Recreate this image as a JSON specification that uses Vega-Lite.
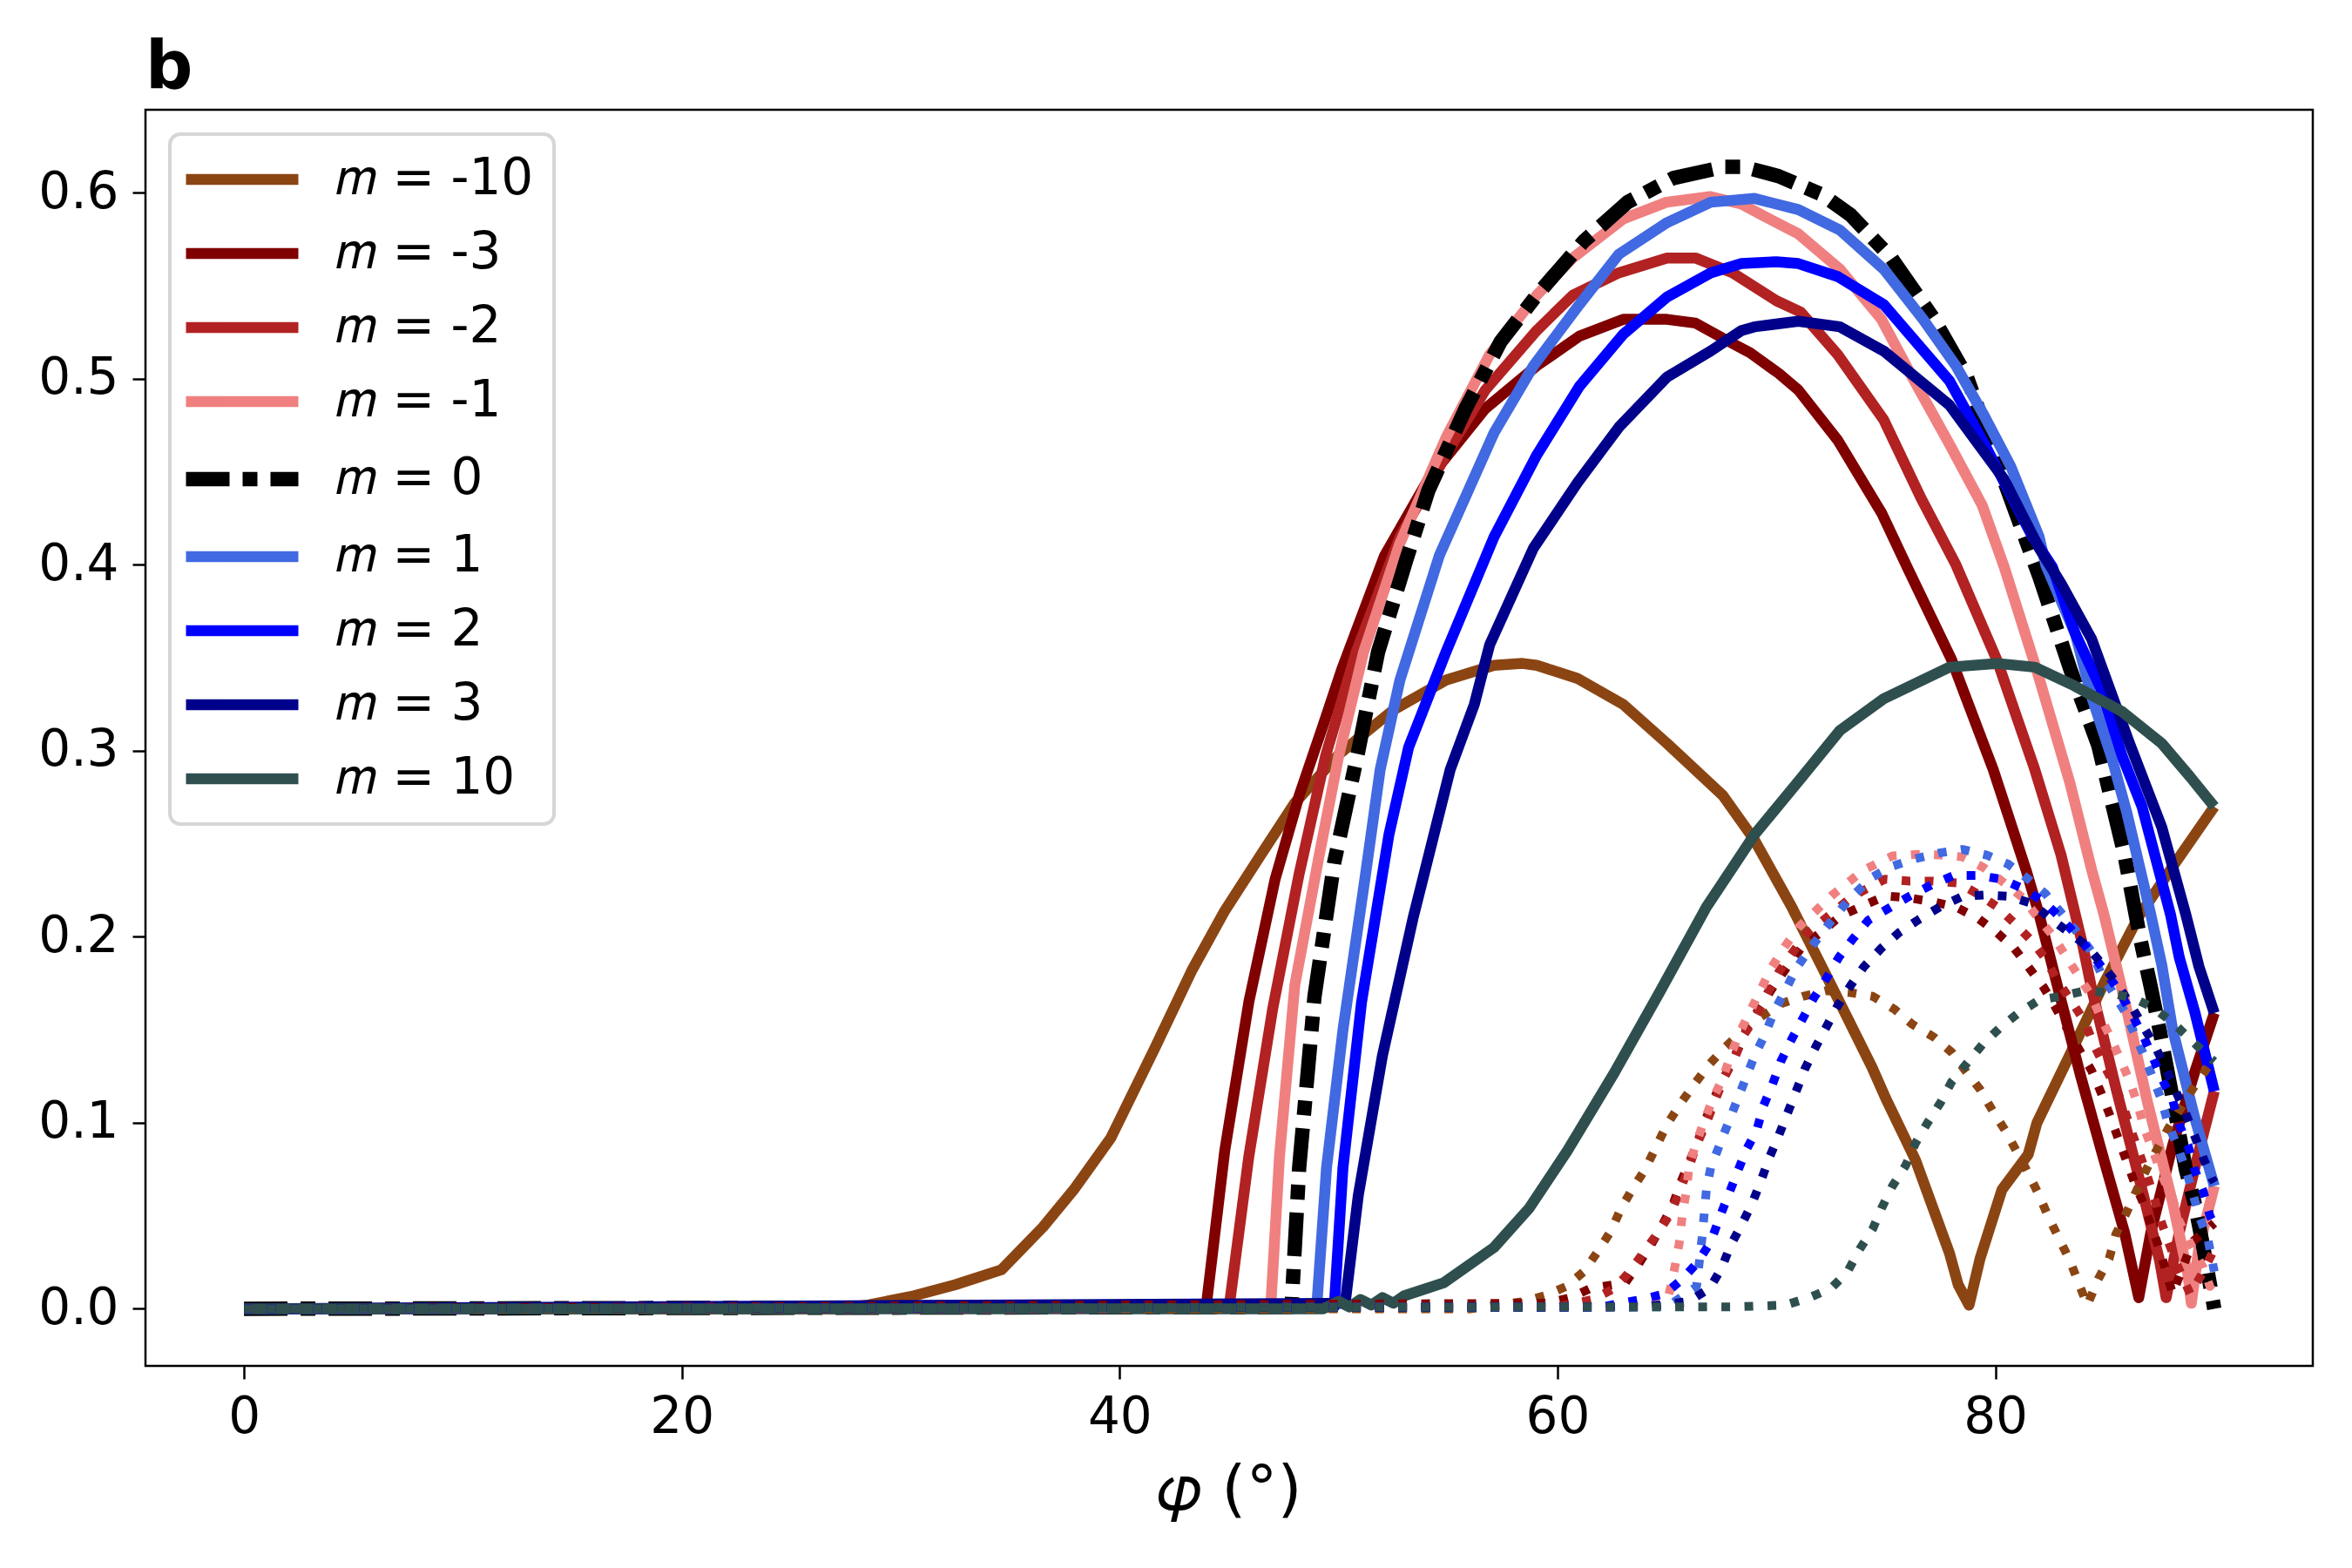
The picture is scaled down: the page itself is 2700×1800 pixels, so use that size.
{
  "$schema": "https://vega.github.io/schema/vega-lite/v6.json",
  "width": 2488,
  "height": 1442,
  "autosize": "none",
  "padding": {"left": 167, "top": 126, "right": 45, "bottom": 232},
  "background": "white",
  "title": {"text": "b", "anchor": "start", "frame": "group", "font": "DejaVu Sans", "fontSize": 76, "fontWeight": "bold", "color": "black", "baseline": "alphabetic", "offset": 24, "dy": 75},
  "datasets": {
    "solid": [
      {"m":"-10","p":0,"r":0},{"m":"-10","p":27,"r":0},{"m":"-10","p":28.5,"r":0.002},{"m":"-10","p":30.6,"r":0.007},{"m":"-10","p":32.5,"r":0.013},{"m":"-10","p":34.6,"r":0.021},{"m":"-10","p":36.5,"r":0.044},{"m":"-10","p":37.9,"r":0.064},{"m":"-10","p":39.6,"r":0.092},{"m":"-10","p":41.6,"r":0.14},{"m":"-10","p":43.3,"r":0.182},{"m":"-10","p":44.8,"r":0.214},{"m":"-10","p":46.5,"r":0.245},{"m":"-10","p":48,"r":0.272},{"m":"-10","p":50,"r":0.298},{"m":"-10","p":52.5,"r":0.322},{"m":"-10","p":54.9,"r":0.338},{"m":"-10","p":57.1,"r":0.346},{"m":"-10","p":58.4,"r":0.347},{"m":"-10","p":59.05,"r":0.346},{"m":"-10","p":60.9,"r":0.339},{"m":"-10","p":63,"r":0.325},{"m":"-10","p":65,"r":0.304},{"m":"-10","p":67.55,"r":0.276},{"m":"-10","p":69,"r":0.252},{"m":"-10","p":70.7,"r":0.216},{"m":"-10","p":72.5,"r":0.174},{"m":"-10","p":74.36,"r":0.13},{"m":"-10","p":75,"r":0.113},{"m":"-10","p":76.35,"r":0.08},{"m":"-10","p":77.9,"r":0.03},{"m":"-10","p":78.3,"r":0.013},{"m":"-10","p":78.8,"r":0.002},{"m":"-10","p":79.3,"r":0.027},{"m":"-10","p":80.3,"r":0.064},{"m":"-10","p":81.5,"r":0.083},{"m":"-10","p":81.9,"r":0.1},{"m":"-10","p":83.5,"r":0.139},{"m":"-10","p":84.96,"r":0.175},{"m":"-10","p":86.55,"r":0.211},{"m":"-10","p":88,"r":0.236},{"m":"-10","p":90,"r":0.27},
      {"m":"-3","p":0,"r":0},{"m":"-3","p":43.95,"r":0.001},{"m":"-3","p":44.8,"r":0.085},{"m":"-3","p":45.9,"r":0.165},{"m":"-3","p":47.1,"r":0.231},{"m":"-3","p":48.2,"r":0.276},{"m":"-3","p":49.3,"r":0.314},{"m":"-3","p":50.15,"r":0.344},{"m":"-3","p":52.1,"r":0.405},{"m":"-3","p":54.1,"r":0.446},{"m":"-3","p":56.7,"r":0.484},{"m":"-3","p":59.05,"r":0.507},{"m":"-3","p":61,"r":0.523},{"m":"-3","p":63,"r":0.532},{"m":"-3","p":65,"r":0.532},{"m":"-3","p":66.3,"r":0.53},{"m":"-3","p":68,"r":0.519},{"m":"-3","p":68.8,"r":0.514},{"m":"-3","p":70.1,"r":0.503},{"m":"-3","p":71,"r":0.494},{"m":"-3","p":72.8,"r":0.467},{"m":"-3","p":74.8,"r":0.428},{"m":"-3","p":76,"r":0.398},{"m":"-3","p":78,"r":0.349},{"m":"-3","p":79.9,"r":0.29},{"m":"-3","p":81.4,"r":0.236},{"m":"-3","p":82,"r":0.212},{"m":"-3","p":83,"r":0.166},{"m":"-3","p":83.9,"r":0.125},{"m":"-3","p":84.96,"r":0.08},{"m":"-3","p":85.9,"r":0.041},{"m":"-3","p":86.55,"r":0.006},{"m":"-3","p":87.1,"r":0.041},{"m":"-3","p":88.1,"r":0.088},{"m":"-3","p":89.1,"r":0.127},{"m":"-3","p":90,"r":0.159},
      {"m":"-2","p":0,"r":0},{"m":"-2","p":45,"r":0.001},{"m":"-2","p":45.9,"r":0.082},{"m":"-2","p":47,"r":0.162},{"m":"-2","p":48.2,"r":0.234},{"m":"-2","p":49.4,"r":0.297},{"m":"-2","p":50.8,"r":0.353},{"m":"-2","p":52.8,"r":0.415},{"m":"-2","p":55.1,"r":0.463},{"m":"-2","p":56.7,"r":0.494},{"m":"-2","p":59.05,"r":0.526},{"m":"-2","p":60.7,"r":0.545},{"m":"-2","p":62.8,"r":0.557},{"m":"-2","p":65,"r":0.565},{"m":"-2","p":66.3,"r":0.565},{"m":"-2","p":68,"r":0.557},{"m":"-2","p":70,"r":0.542},{"m":"-2","p":71.1,"r":0.536},{"m":"-2","p":72.8,"r":0.513},{"m":"-2","p":74.9,"r":0.478},{"m":"-2","p":76.6,"r":0.436},{"m":"-2","p":78.2,"r":0.4},{"m":"-2","p":80.1,"r":0.348},{"m":"-2","p":81.8,"r":0.29},{"m":"-2","p":83,"r":0.244},{"m":"-2","p":84,"r":0.195},{"m":"-2","p":84.4,"r":0.172},{"m":"-2","p":85.5,"r":0.119},{"m":"-2","p":86.7,"r":0.064},{"m":"-2","p":87.5,"r":0.026},{"m":"-2","p":87.8,"r":0.006},{"m":"-2","p":88.4,"r":0.041},{"m":"-2","p":89.2,"r":0.08},{"m":"-2","p":90,"r":0.117},
      {"m":"-1","p":0,"r":0},{"m":"-1","p":46.9,"r":0.001},{"m":"-1","p":47.3,"r":0.082},{"m":"-1","p":48,"r":0.174},{"m":"-1","p":49.1,"r":0.243},{"m":"-1","p":50,"r":0.297},{"m":"-1","p":51.14,"r":0.353},{"m":"-1","p":52.78,"r":0.411},{"m":"-1","p":54.93,"r":0.469},{"m":"-1","p":56.9,"r":0.513},{"m":"-1","p":59.05,"r":0.545},{"m":"-1","p":60.7,"r":0.565},{"m":"-1","p":63,"r":0.586},{"m":"-1","p":64.98,"r":0.595},{"m":"-1","p":66.96,"r":0.598},{"m":"-1","p":68.4,"r":0.594},{"m":"-1","p":70,"r":0.584},{"m":"-1","p":71,"r":0.578},{"m":"-1","p":72.9,"r":0.559},{"m":"-1","p":74.8,"r":0.532},{"m":"-1","p":76.2,"r":0.501},{"m":"-1","p":77.9,"r":0.465},{"m":"-1","p":79.4,"r":0.432},{"m":"-1","p":80.4,"r":0.399},{"m":"-1","p":81.9,"r":0.343},{"m":"-1","p":83.4,"r":0.283},{"m":"-1","p":84.4,"r":0.236},{"m":"-1","p":84.96,"r":0.212},{"m":"-1","p":85.9,"r":0.166},{"m":"-1","p":86.95,"r":0.111},{"m":"-1","p":88.1,"r":0.057},{"m":"-1","p":88.8,"r":0.018},{"m":"-1","p":88.95,"r":0.003},{"m":"-1","p":89.3,"r":0.033},{"m":"-1","p":90,"r":0.066},
      {"m":"0","p":0,"r":0},{"m":"0","p":47.85,"r":0.001},{"m":"0","p":48.2,"r":0.076},{"m":"0","p":48.9,"r":0.168},{"m":"0","p":49.8,"r":0.24},{"m":"0","p":50.9,"r":0.3},{"m":"0","p":51.8,"r":0.353},{"m":"0","p":53.1,"r":0.403},{"m":"0","p":54.1,"r":0.44},{"m":"0","p":55.8,"r":0.484},{"m":"0","p":57.4,"r":0.52},{"m":"0","p":59.05,"r":0.545},{"m":"0","p":61.2,"r":0.574},{"m":"0","p":63.2,"r":0.595},{"m":"0","p":65.3,"r":0.608},{"m":"0","p":67.6,"r":0.614},{"m":"0","p":68.5,"r":0.614},{"m":"0","p":70.1,"r":0.609},{"m":"0","p":72.1,"r":0.599},{"m":"0","p":73.4,"r":0.588},{"m":"0","p":75.25,"r":0.565},{"m":"0","p":77.2,"r":0.532},{"m":"0","p":78.7,"r":0.501},{"m":"0","p":80.5,"r":0.442},{"m":"0","p":82,"r":0.394},{"m":"0","p":83.45,"r":0.343},{"m":"0","p":84.7,"r":0.303},{"m":"0","p":85.9,"r":0.244},{"m":"0","p":86.6,"r":0.2},{"m":"0","p":87.1,"r":0.173},{"m":"0","p":87.5,"r":0.15},{"m":"0","p":88.1,"r":0.113},{"m":"0","p":88.7,"r":0.075},{"m":"0","p":89.1,"r":0.057},{"m":"0","p":89.5,"r":0.033},{"m":"0","p":90,"r":0},
      {"m":"1","p":0,"r":0},{"m":"1","p":49,"r":0.001},{"m":"1","p":49.45,"r":0.076},{"m":"1","p":50.2,"r":0.15},{"m":"1","p":51.2,"r":0.231},{"m":"1","p":51.9,"r":0.29},{"m":"1","p":52.8,"r":0.338},{"m":"1","p":54.6,"r":0.405},{"m":"1","p":57.1,"r":0.471},{"m":"1","p":58.9,"r":0.507},{"m":"1","p":61,"r":0.54},{"m":"1","p":62.8,"r":0.567},{"m":"1","p":65,"r":0.584},{"m":"1","p":67,"r":0.595},{"m":"1","p":69,"r":0.597},{"m":"1","p":71,"r":0.591},{"m":"1","p":72.9,"r":0.58},{"m":"1","p":74.9,"r":0.559},{"m":"1","p":76.7,"r":0.532},{"m":"1","p":78.2,"r":0.507},{"m":"1","p":79.5,"r":0.48},{"m":"1","p":80.7,"r":0.453},{"m":"1","p":82,"r":0.415},{"m":"1","p":82.3,"r":0.4},{"m":"1","p":83.65,"r":0.363},{"m":"1","p":84.4,"r":0.329},{"m":"1","p":85.3,"r":0.297},{"m":"1","p":86,"r":0.267},{"m":"1","p":87.1,"r":0.212},{"m":"1","p":87.6,"r":0.185},{"m":"1","p":88.1,"r":0.15},{"m":"1","p":89.1,"r":0.103},{"m":"1","p":90,"r":0.066},
      {"m":"2","p":0,"r":0},{"m":"2","p":49.8,"r":0.001},{"m":"2","p":50.2,"r":0.076},{"m":"2","p":51.05,"r":0.165},{"m":"2","p":52.3,"r":0.255},{"m":"2","p":53.2,"r":0.302},{"m":"2","p":54.9,"r":0.353},{"m":"2","p":57.1,"r":0.415},{"m":"2","p":59.05,"r":0.459},{"m":"2","p":61,"r":0.496},{"m":"2","p":63,"r":0.524},{"m":"2","p":65,"r":0.544},{"m":"2","p":67,"r":0.557},{"m":"2","p":68.4,"r":0.562},{"m":"2","p":70,"r":0.563},{"m":"2","p":71,"r":0.562},{"m":"2","p":72.8,"r":0.555},{"m":"2","p":74.9,"r":0.54},{"m":"2","p":77.9,"r":0.499},{"m":"2","p":79.5,"r":0.465},{"m":"2","p":81.7,"r":0.415},{"m":"2","p":82.6,"r":0.399},{"m":"2","p":83.65,"r":0.363},{"m":"2","p":84.8,"r":0.334},{"m":"2","p":85.8,"r":0.297},{"m":"2","p":86.7,"r":0.27},{"m":"2","p":88,"r":0.212},{"m":"2","p":88.4,"r":0.189},{"m":"2","p":89.1,"r":0.16},{"m":"2","p":90,"r":0.117},
      {"m":"3","p":0,"r":0},{"m":"3","p":50.3,"r":0.003},{"m":"3","p":50.9,"r":0.061},{"m":"3","p":52,"r":0.136},{"m":"3","p":53.4,"r":0.21},{"m":"3","p":55.1,"r":0.29},{"m":"3","p":56.2,"r":0.325},{"m":"3","p":56.9,"r":0.357},{"m":"3","p":58.9,"r":0.409},{"m":"3","p":60.9,"r":0.444},{"m":"3","p":62.8,"r":0.474},{"m":"3","p":65,"r":0.501},{"m":"3","p":67,"r":0.515},{"m":"3","p":68.4,"r":0.526},{"m":"3","p":69,"r":0.528},{"m":"3","p":71,"r":0.531},{"m":"3","p":72.9,"r":0.528},{"m":"3","p":74.9,"r":0.515},{"m":"3","p":77.9,"r":0.486},{"m":"3","p":80.4,"r":0.446},{"m":"3","p":82,"r":0.409},{"m":"3","p":83,"r":0.39},{"m":"3","p":84.4,"r":0.36},{"m":"3","p":86.1,"r":0.305},{"m":"3","p":87.6,"r":0.259},{"m":"3","p":88.7,"r":0.212},{"m":"3","p":89.3,"r":0.184},{"m":"3","p":90,"r":0.159},
      {"m":"10","p":0,"r":0},{"m":"10","p":49.3,"r":0},{"m":"10","p":50,"r":0.004},{"m":"10","p":50.5,"r":0.001},{"m":"10","p":51,"r":0.005},{"m":"10","p":51.5,"r":0.002},{"m":"10","p":52,"r":0.006},{"m":"10","p":52.5,"r":0.003},{"m":"10","p":53,"r":0.007},{"m":"10","p":54.8,"r":0.014},{"m":"10","p":57.1,"r":0.033},{"m":"10","p":58.7,"r":0.054},{"m":"10","p":60.45,"r":0.085},{"m":"10","p":62.6,"r":0.127},{"m":"10","p":64.7,"r":0.171},{"m":"10","p":66.8,"r":0.216},{"m":"10","p":69,"r":0.255},{"m":"10","p":71.1,"r":0.285},{"m":"10","p":72.9,"r":0.311},{"m":"10","p":74.9,"r":0.328},{"m":"10","p":77.9,"r":0.345},{"m":"10","p":80.1,"r":0.347},{"m":"10","p":81.8,"r":0.345},{"m":"10","p":83.6,"r":0.335},{"m":"10","p":85.8,"r":0.321},{"m":"10","p":87.6,"r":0.304},{"m":"10","p":88.9,"r":0.286},{"m":"10","p":90,"r":0.27}
    ],
    "dotted": [
      {"m":"-10","p":0,"r":0},{"m":"-10","p":56,"r":0},{"m":"-10","p":58.5,"r":0.004},{"m":"-10","p":59.4,"r":0.007},{"m":"-10","p":60.4,"r":0.012},{"m":"-10","p":61.2,"r":0.02},{"m":"-10","p":61.85,"r":0.031},{"m":"-10","p":62.45,"r":0.042},{"m":"-10","p":62.9,"r":0.054},{"m":"-10","p":63.4,"r":0.064},{"m":"-10","p":64,"r":0.075},{"m":"-10","p":64.5,"r":0.087},{"m":"-10","p":65,"r":0.099},{"m":"-10","p":65.6,"r":0.11},{"m":"-10","p":66.2,"r":0.12},{"m":"-10","p":66.9,"r":0.131},{"m":"-10","p":67.6,"r":0.14},{"m":"-10","p":68.5,"r":0.15},{"m":"-10","p":69.3,"r":0.157},{"m":"-10","p":70.2,"r":0.164},{"m":"-10","p":71.2,"r":0.168},{"m":"-10","p":72.25,"r":0.171},{"m":"-10","p":73.4,"r":0.17},{"m":"-10","p":74.4,"r":0.168},{"m":"-10","p":75.4,"r":0.161},{"m":"-10","p":76.2,"r":0.153},{"m":"-10","p":77.2,"r":0.146},{"m":"-10","p":78,"r":0.138},{"m":"-10","p":78.7,"r":0.127},{"m":"-10","p":79.3,"r":0.118},{"m":"-10","p":79.9,"r":0.106},{"m":"-10","p":80.5,"r":0.095},{"m":"-10","p":81,"r":0.084},{"m":"-10","p":81.5,"r":0.073},{"m":"-10","p":82,"r":0.061},{"m":"-10","p":82.4,"r":0.05},{"m":"-10","p":82.9,"r":0.038},{"m":"-10","p":83.4,"r":0.026},{"m":"-10","p":83.8,"r":0.014},{"m":"-10","p":84.2,"r":0.002},{"m":"-10","p":84.7,"r":0.016},{"m":"-10","p":85.2,"r":0.027},{"m":"-10","p":85.5,"r":0.04},{"m":"-10","p":86,"r":0.052},{"m":"-10","p":86.9,"r":0.075},{"m":"-10","p":87.9,"r":0.097},{"m":"-10","p":89,"r":0.118},{"m":"-10","p":90,"r":0.135},
      {"m":"-3","p":0,"r":0},{"m":"-3","p":59.5,"r":0.003},{"m":"-3","p":60.6,"r":0.006},{"m":"-3","p":61.5,"r":0.011},{"m":"-3","p":63.1,"r":0.014},{"m":"-3","p":63.7,"r":0.024},{"m":"-3","p":64.3,"r":0.035},{"m":"-3","p":64.83,"r":0.046},{"m":"-3","p":65.3,"r":0.057},{"m":"-3","p":65.7,"r":0.07},{"m":"-3","p":66.1,"r":0.081},{"m":"-3","p":66.5,"r":0.093},{"m":"-3","p":66.9,"r":0.106},{"m":"-3","p":67.3,"r":0.117},{"m":"-3","p":67.8,"r":0.129},{"m":"-3","p":68.3,"r":0.141},{"m":"-3","p":68.7,"r":0.152},{"m":"-3","p":69.3,"r":0.163},{"m":"-3","p":69.9,"r":0.174},{"m":"-3","p":70.5,"r":0.184},{"m":"-3","p":71.2,"r":0.195},{"m":"-3","p":72.1,"r":0.203},{"m":"-3","p":72.9,"r":0.211},{"m":"-3","p":74,"r":0.217},{"m":"-3","p":75,"r":0.222},{"m":"-3","p":76,"r":0.221},{"m":"-3","p":77.1,"r":0.219},{"m":"-3","p":78.2,"r":0.216},{"m":"-3","p":79.2,"r":0.21},{"m":"-3","p":80.1,"r":0.202},{"m":"-3","p":80.85,"r":0.194},{"m":"-3","p":81.5,"r":0.184},{"m":"-3","p":82.2,"r":0.173},{"m":"-3","p":82.7,"r":0.163},{"m":"-3","p":83.5,"r":0.146},{"m":"-3","p":84.4,"r":0.128},{"m":"-3","p":84.8,"r":0.117},{"m":"-3","p":85.2,"r":0.105},{"m":"-3","p":85.6,"r":0.092},{"m":"-3","p":86.35,"r":0.068},{"m":"-3","p":86.75,"r":0.057},{"m":"-3","p":87.5,"r":0.032},{"m":"-3","p":88.1,"r":0.008},{"m":"-3","p":89,"r":0.036},{"m":"-3","p":90,"r":0.046},
      {"m":"-2","p":0,"r":0},{"m":"-2","p":60,"r":0.001},{"m":"-2","p":61.6,"r":0.005},{"m":"-2","p":62.6,"r":0.011},{"m":"-2","p":63.3,"r":0.02},{"m":"-2","p":63.97,"r":0.031},{"m":"-2","p":64.6,"r":0.041},{"m":"-2","p":65.2,"r":0.052},{"m":"-2","p":65.6,"r":0.064},{"m":"-2","p":66,"r":0.076},{"m":"-2","p":66.35,"r":0.088},{"m":"-2","p":66.8,"r":0.1},{"m":"-2","p":67.2,"r":0.112},{"m":"-2","p":67.6,"r":0.124},{"m":"-2","p":68.1,"r":0.135},{"m":"-2","p":68.5,"r":0.147},{"m":"-2","p":69.1,"r":0.158},{"m":"-2","p":69.6,"r":0.17},{"m":"-2","p":70.1,"r":0.181},{"m":"-2","p":70.7,"r":0.191},{"m":"-2","p":71.4,"r":0.202},{"m":"-2","p":72.25,"r":0.21},{"m":"-2","p":73.5,"r":0.222},{"m":"-2","p":74.96,"r":0.231},{"m":"-2","p":76.1,"r":0.23},{"m":"-2","p":77.1,"r":0.23},{"m":"-2","p":78.3,"r":0.229},{"m":"-2","p":79.2,"r":0.223},{"m":"-2","p":80.1,"r":0.216},{"m":"-2","p":80.9,"r":0.207},{"m":"-2","p":81.65,"r":0.198},{"m":"-2","p":82.3,"r":0.188},{"m":"-2","p":82.8,"r":0.177},{"m":"-2","p":83.5,"r":0.165},{"m":"-2","p":84.1,"r":0.154},{"m":"-2","p":84.5,"r":0.142},{"m":"-2","p":84.96,"r":0.131},{"m":"-2","p":85.5,"r":0.119},{"m":"-2","p":85.9,"r":0.107},{"m":"-2","p":86.2,"r":0.096},{"m":"-2","p":86.6,"r":0.083},{"m":"-2","p":86.95,"r":0.071},{"m":"-2","p":87.3,"r":0.058},{"m":"-2","p":87.6,"r":0.046},{"m":"-2","p":88,"r":0.033},{"m":"-2","p":88.4,"r":0.021},{"m":"-2","p":88.9,"r":0.008},{"m":"-2","p":89.4,"r":0.018},{"m":"-2","p":90,"r":0.032},
      {"m":"-1","p":0,"r":0},{"m":"-1","p":64,"r":0.001},{"m":"-1","p":65,"r":0.004},{"m":"-1","p":65.2,"r":0.013},{"m":"-1","p":65.4,"r":0.025},{"m":"-1","p":65.6,"r":0.038},{"m":"-1","p":65.7,"r":0.051},{"m":"-1","p":65.9,"r":0.064},{"m":"-1","p":66,"r":0.076},{"m":"-1","p":66.3,"r":0.088},{"m":"-1","p":66.7,"r":0.101},{"m":"-1","p":67.1,"r":0.113},{"m":"-1","p":67.55,"r":0.124},{"m":"-1","p":67.9,"r":0.136},{"m":"-1","p":68.3,"r":0.148},{"m":"-1","p":68.8,"r":0.16},{"m":"-1","p":69.3,"r":0.172},{"m":"-1","p":69.8,"r":0.184},{"m":"-1","p":70.4,"r":0.195},{"m":"-1","p":71,"r":0.205},{"m":"-1","p":72.5,"r":0.222},{"m":"-1","p":74,"r":0.236},{"m":"-1","p":75.3,"r":0.2435},{"m":"-1","p":76.35,"r":0.2443},{"m":"-1","p":77.5,"r":0.244},{"m":"-1","p":78.5,"r":0.243},{"m":"-1","p":79.5,"r":0.237},{"m":"-1","p":80.4,"r":0.229},{"m":"-1","p":81.25,"r":0.221},{"m":"-1","p":81.9,"r":0.211},{"m":"-1","p":82.6,"r":0.201},{"m":"-1","p":83.2,"r":0.19},{"m":"-1","p":83.8,"r":0.179},{"m":"-1","p":84.4,"r":0.168},{"m":"-1","p":84.8,"r":0.157},{"m":"-1","p":85.3,"r":0.145},{"m":"-1","p":85.75,"r":0.133},{"m":"-1","p":86.15,"r":0.122},{"m":"-1","p":86.5,"r":0.11},{"m":"-1","p":86.8,"r":0.097},{"m":"-1","p":87.2,"r":0.085},{"m":"-1","p":87.6,"r":0.072},{"m":"-1","p":88.1,"r":0.059},{"m":"-1","p":88.4,"r":0.047},{"m":"-1","p":88.9,"r":0.035},{"m":"-1","p":89.5,"r":0.022},{"m":"-1","p":89.8,"r":0.012},{"m":"-1","p":90,"r":0.015},
      {"m":"1","p":0,"r":0},{"m":"1","p":65,"r":0.001},{"m":"1","p":66.35,"r":0.012},{"m":"1","p":66.6,"r":0.038},{"m":"1","p":66.8,"r":0.064},{"m":"1","p":67,"r":0.076},{"m":"1","p":67.4,"r":0.088},{"m":"1","p":67.8,"r":0.1},{"m":"1","p":68.2,"r":0.112},{"m":"1","p":68.6,"r":0.124},{"m":"1","p":69,"r":0.136},{"m":"1","p":69.5,"r":0.148},{"m":"1","p":69.9,"r":0.16},{"m":"1","p":70.4,"r":0.171},{"m":"1","p":70.9,"r":0.183},{"m":"1","p":71.5,"r":0.193},{"m":"1","p":72.2,"r":0.204},{"m":"1","p":73.3,"r":0.22},{"m":"1","p":74.36,"r":0.232},{"m":"1","p":75.3,"r":0.238},{"m":"1","p":76.35,"r":0.242},{"m":"1","p":77.4,"r":0.245},{"m":"1","p":78.5,"r":0.247},{"m":"1","p":79.6,"r":0.244},{"m":"1","p":80.6,"r":0.239},{"m":"1","p":81.5,"r":0.231},{"m":"1","p":82.3,"r":0.223},{"m":"1","p":83,"r":0.213},{"m":"1","p":83.7,"r":0.203},{"m":"1","p":84.4,"r":0.192},{"m":"1","p":84.8,"r":0.181},{"m":"1","p":85.9,"r":0.16},{"m":"1","p":86.35,"r":0.148},{"m":"1","p":86.8,"r":0.136},{"m":"1","p":87.2,"r":0.124},{"m":"1","p":87.6,"r":0.112},{"m":"1","p":87.9,"r":0.099},{"m":"1","p":88.3,"r":0.088},{"m":"1","p":88.7,"r":0.075},{"m":"1","p":89,"r":0.063},{"m":"1","p":89.3,"r":0.05},{"m":"1","p":89.7,"r":0.038},{"m":"1","p":89.9,"r":0.026},{"m":"1","p":90,"r":0.02},
      {"m":"2","p":0,"r":0},{"m":"2","p":62,"r":0.001},{"m":"2","p":63.8,"r":0.005},{"m":"2","p":64.9,"r":0.008},{"m":"2","p":65.7,"r":0.016},{"m":"2","p":66.4,"r":0.025},{"m":"2","p":67,"r":0.036},{"m":"2","p":67.4,"r":0.049},{"m":"2","p":67.8,"r":0.061},{"m":"2","p":68.2,"r":0.073},{"m":"2","p":68.6,"r":0.085},{"m":"2","p":69.1,"r":0.096},{"m":"2","p":69.4,"r":0.109},{"m":"2","p":69.8,"r":0.12},{"m":"2","p":70.2,"r":0.133},{"m":"2","p":70.7,"r":0.145},{"m":"2","p":71.2,"r":0.156},{"m":"2","p":71.7,"r":0.167},{"m":"2","p":72.3,"r":0.178},{"m":"2","p":72.85,"r":0.189},{"m":"2","p":73.5,"r":0.199},{"m":"2","p":74.2,"r":0.209},{"m":"2","p":76.1,"r":0.222},{"m":"2","p":77.1,"r":0.228},{"m":"2","p":78.1,"r":0.233},{"m":"2","p":79.2,"r":0.233},{"m":"2","p":80.3,"r":0.231},{"m":"2","p":81.25,"r":0.226},{"m":"2","p":82.2,"r":0.219},{"m":"2","p":83,"r":0.21},{"m":"2","p":83.7,"r":0.201},{"m":"2","p":84.4,"r":0.191},{"m":"2","p":85.1,"r":0.18},{"m":"2","p":85.7,"r":0.17},{"m":"2","p":86.2,"r":0.159},{"m":"2","p":86.75,"r":0.147},{"m":"2","p":87.2,"r":0.135},{"m":"2","p":87.6,"r":0.124},{"m":"2","p":88.1,"r":0.112},{"m":"2","p":88.4,"r":0.099},{"m":"2","p":88.8,"r":0.088},{"m":"2","p":89.1,"r":0.075},{"m":"2","p":89.5,"r":0.063},{"m":"2","p":89.8,"r":0.05},{"m":"2","p":90,"r":0.045},
      {"m":"3","p":0,"r":0},{"m":"3","p":64,"r":0.001},{"m":"3","p":66,"r":0.004},{"m":"3","p":66.95,"r":0.011},{"m":"3","p":67.5,"r":0.022},{"m":"3","p":67.9,"r":0.034},{"m":"3","p":68.4,"r":0.045},{"m":"3","p":68.9,"r":0.057},{"m":"3","p":69.3,"r":0.069},{"m":"3","p":69.7,"r":0.082},{"m":"3","p":70.1,"r":0.093},{"m":"3","p":70.5,"r":0.105},{"m":"3","p":70.9,"r":0.117},{"m":"3","p":71.3,"r":0.129},{"m":"3","p":71.8,"r":0.141},{"m":"3","p":72.3,"r":0.152},{"m":"3","p":72.8,"r":0.163},{"m":"3","p":73.4,"r":0.174},{"m":"3","p":74,"r":0.184},{"m":"3","p":74.8,"r":0.194},{"m":"3","p":75.6,"r":0.2023},{"m":"3","p":76.5,"r":0.2093},{"m":"3","p":77.5,"r":0.2163},{"m":"3","p":78.5,"r":0.2218},{"m":"3","p":79.5,"r":0.2225},{"m":"3","p":80.6,"r":0.2218},{"m":"3","p":81.65,"r":0.218},{"m":"3","p":82.5,"r":0.21},{"m":"3","p":83.4,"r":0.202},{"m":"3","p":84.2,"r":0.195},{"m":"3","p":84.96,"r":0.184},{"m":"3","p":85.6,"r":0.174},{"m":"3","p":86.2,"r":0.163},{"m":"3","p":86.75,"r":0.152},{"m":"3","p":87.3,"r":0.141},{"m":"3","p":87.8,"r":0.129},{"m":"3","p":88.2,"r":0.118},{"m":"3","p":88.7,"r":0.105},{"m":"3","p":89.1,"r":0.093},{"m":"3","p":89.5,"r":0.081},{"m":"3","p":89.9,"r":0.07},{"m":"3","p":90,"r":0.068},
      {"m":"10","p":0,"r":0},{"m":"10","p":60,"r":0.001},{"m":"10","p":68,"r":0.001},{"m":"10","p":70.4,"r":0.002},{"m":"10","p":71.5,"r":0.006},{"m":"10","p":72.5,"r":0.011},{"m":"10","p":73.25,"r":0.02},{"m":"10","p":73.8,"r":0.032},{"m":"10","p":74.4,"r":0.043},{"m":"10","p":74.8,"r":0.054},{"m":"10","p":75.3,"r":0.066},{"m":"10","p":75.9,"r":0.077},{"m":"10","p":76.35,"r":0.089},{"m":"10","p":76.9,"r":0.1},{"m":"10","p":77.5,"r":0.111},{"m":"10","p":78,"r":0.122},{"m":"10","p":78.7,"r":0.132},{"m":"10","p":79.4,"r":0.142},{"m":"10","p":80.2,"r":0.151},{"m":"10","p":81.05,"r":0.159},{"m":"10","p":82,"r":0.166},{"m":"10","p":83,"r":0.168},{"m":"10","p":84.1,"r":0.171},{"m":"10","p":85.2,"r":0.17},{"m":"10","p":86.3,"r":0.167},{"m":"10","p":87.2,"r":0.162},{"m":"10","p":88.1,"r":0.154},{"m":"10","p":88.9,"r":0.145},{"m":"10","p":89.7,"r":0.136},{"m":"10","p":90,"r":0.133}
    ]
  },
  "encoding": {
    "x": {
      "field": "p", "type": "quantitative", "title": "𝜑 (°)",
      "scale": {"domain": [-4.5, 94.5], "nice": false, "zero": false},
      "axis": {"values": [0, 20, 40, 60, 80], "labelPadding": 15, "titlePadding": 76, "titleBaseline": "alphabetic"}
    },
    "y": {
      "field": "r", "type": "quantitative", "title": null,
      "scale": {"domain": [-0.0307, 0.6447], "nice": false, "zero": false},
      "axis": {"values": [0, 0.1, 0.2, 0.3, 0.4, 0.5, 0.6], "format": ".1f", "labelPadding": 16}
    },
    "color": {
      "field": "m", "type": "nominal",
      "scale": {"domain": ["-10", "-3", "-2", "-1", "0", "1", "2", "3", "10"], "range": ["#8B4513", "#800000", "#B22222", "#F08080", "#000000", "#4169E1", "#0000FF", "#00008B", "#2F4F4F"]},
      "legend": {
        "title": null,
        "orient": "top-left",
        "offset": 28,
        "padding": 23,
        "fillColor": "white",
        "strokeColor": "#d6d6d6",
        "cornerRadius": 12,
        "symbolType": "stroke",
        "symbolSize": 16641,
        "symbolStrokeWidth": 12.5,
        "symbolOffset": 31,
        "labelFont": "DejaVu Sans",
        "labelFontSize": 58,
        "labelColor": "black",
        "labelOffset": 78,
        "labelLimit": 0,
        "rowPadding": 27,
        "labelExpr": "'𝑚 = ' + datum.label",
        "encode": {
          "legend": {"update": {"strokeWidth": {"value": 4}}},
          "symbols": {"update": {
            "strokeWidth": {"signal": "datum.value == '0' ? 16.5 : 12.5"},
            "strokeDash": {"signal": "datum.value == '0' ? [50, 15, 17, 15] : [1, 0]"}
          }}
        }
      }
    }
  },
  "layer": [
    {
      "data": {"name": "solid"},
      "transform": [{"filter": {"field": "m", "oneOf": ["-10", "-3", "-2", "-1"]}}],
      "mark": {"type": "line", "strokeWidth": 12.5, "strokeCap": "butt", "strokeJoin": "round", "clip": true}
    },
    {
      "data": {"name": "solid"},
      "transform": [{"filter": {"field": "m", "equal": "0"}}],
      "mark": {"type": "line", "strokeWidth": 16.5, "strokeDash": [50, 15, 17, 15], "strokeCap": "butt", "strokeJoin": "round", "clip": true}
    },
    {
      "data": {"name": "solid"},
      "transform": [{"filter": {"field": "m", "oneOf": ["1", "2", "3", "10"]}}],
      "mark": {"type": "line", "strokeWidth": 12.5, "strokeCap": "butt", "strokeJoin": "round", "clip": true}
    },
    {
      "data": {"name": "dotted"},
      "mark": {"type": "line", "strokeDash": [10, 16.5], "strokeWidth": 10, "strokeCap": "butt", "strokeJoin": "round", "clip": true}
    }
  ],
  "config": {
    "font": "DejaVu Sans",
    "view": {"stroke": "black", "strokeWidth": 2.5},
    "axis": {
      "grid": false,
      "domain": false,
      "ticks": true,
      "tickSize": 15,
      "tickWidth": 2.5,
      "tickColor": "black",
      "labelFont": "DejaVu Sans",
      "labelFontSize": 58,
      "labelColor": "black",
      "titleFont": "DejaVu Sans",
      "titleFontSize": 72,
      "titleFontWeight": "normal",
      "titleColor": "black"
    }
  }
}
